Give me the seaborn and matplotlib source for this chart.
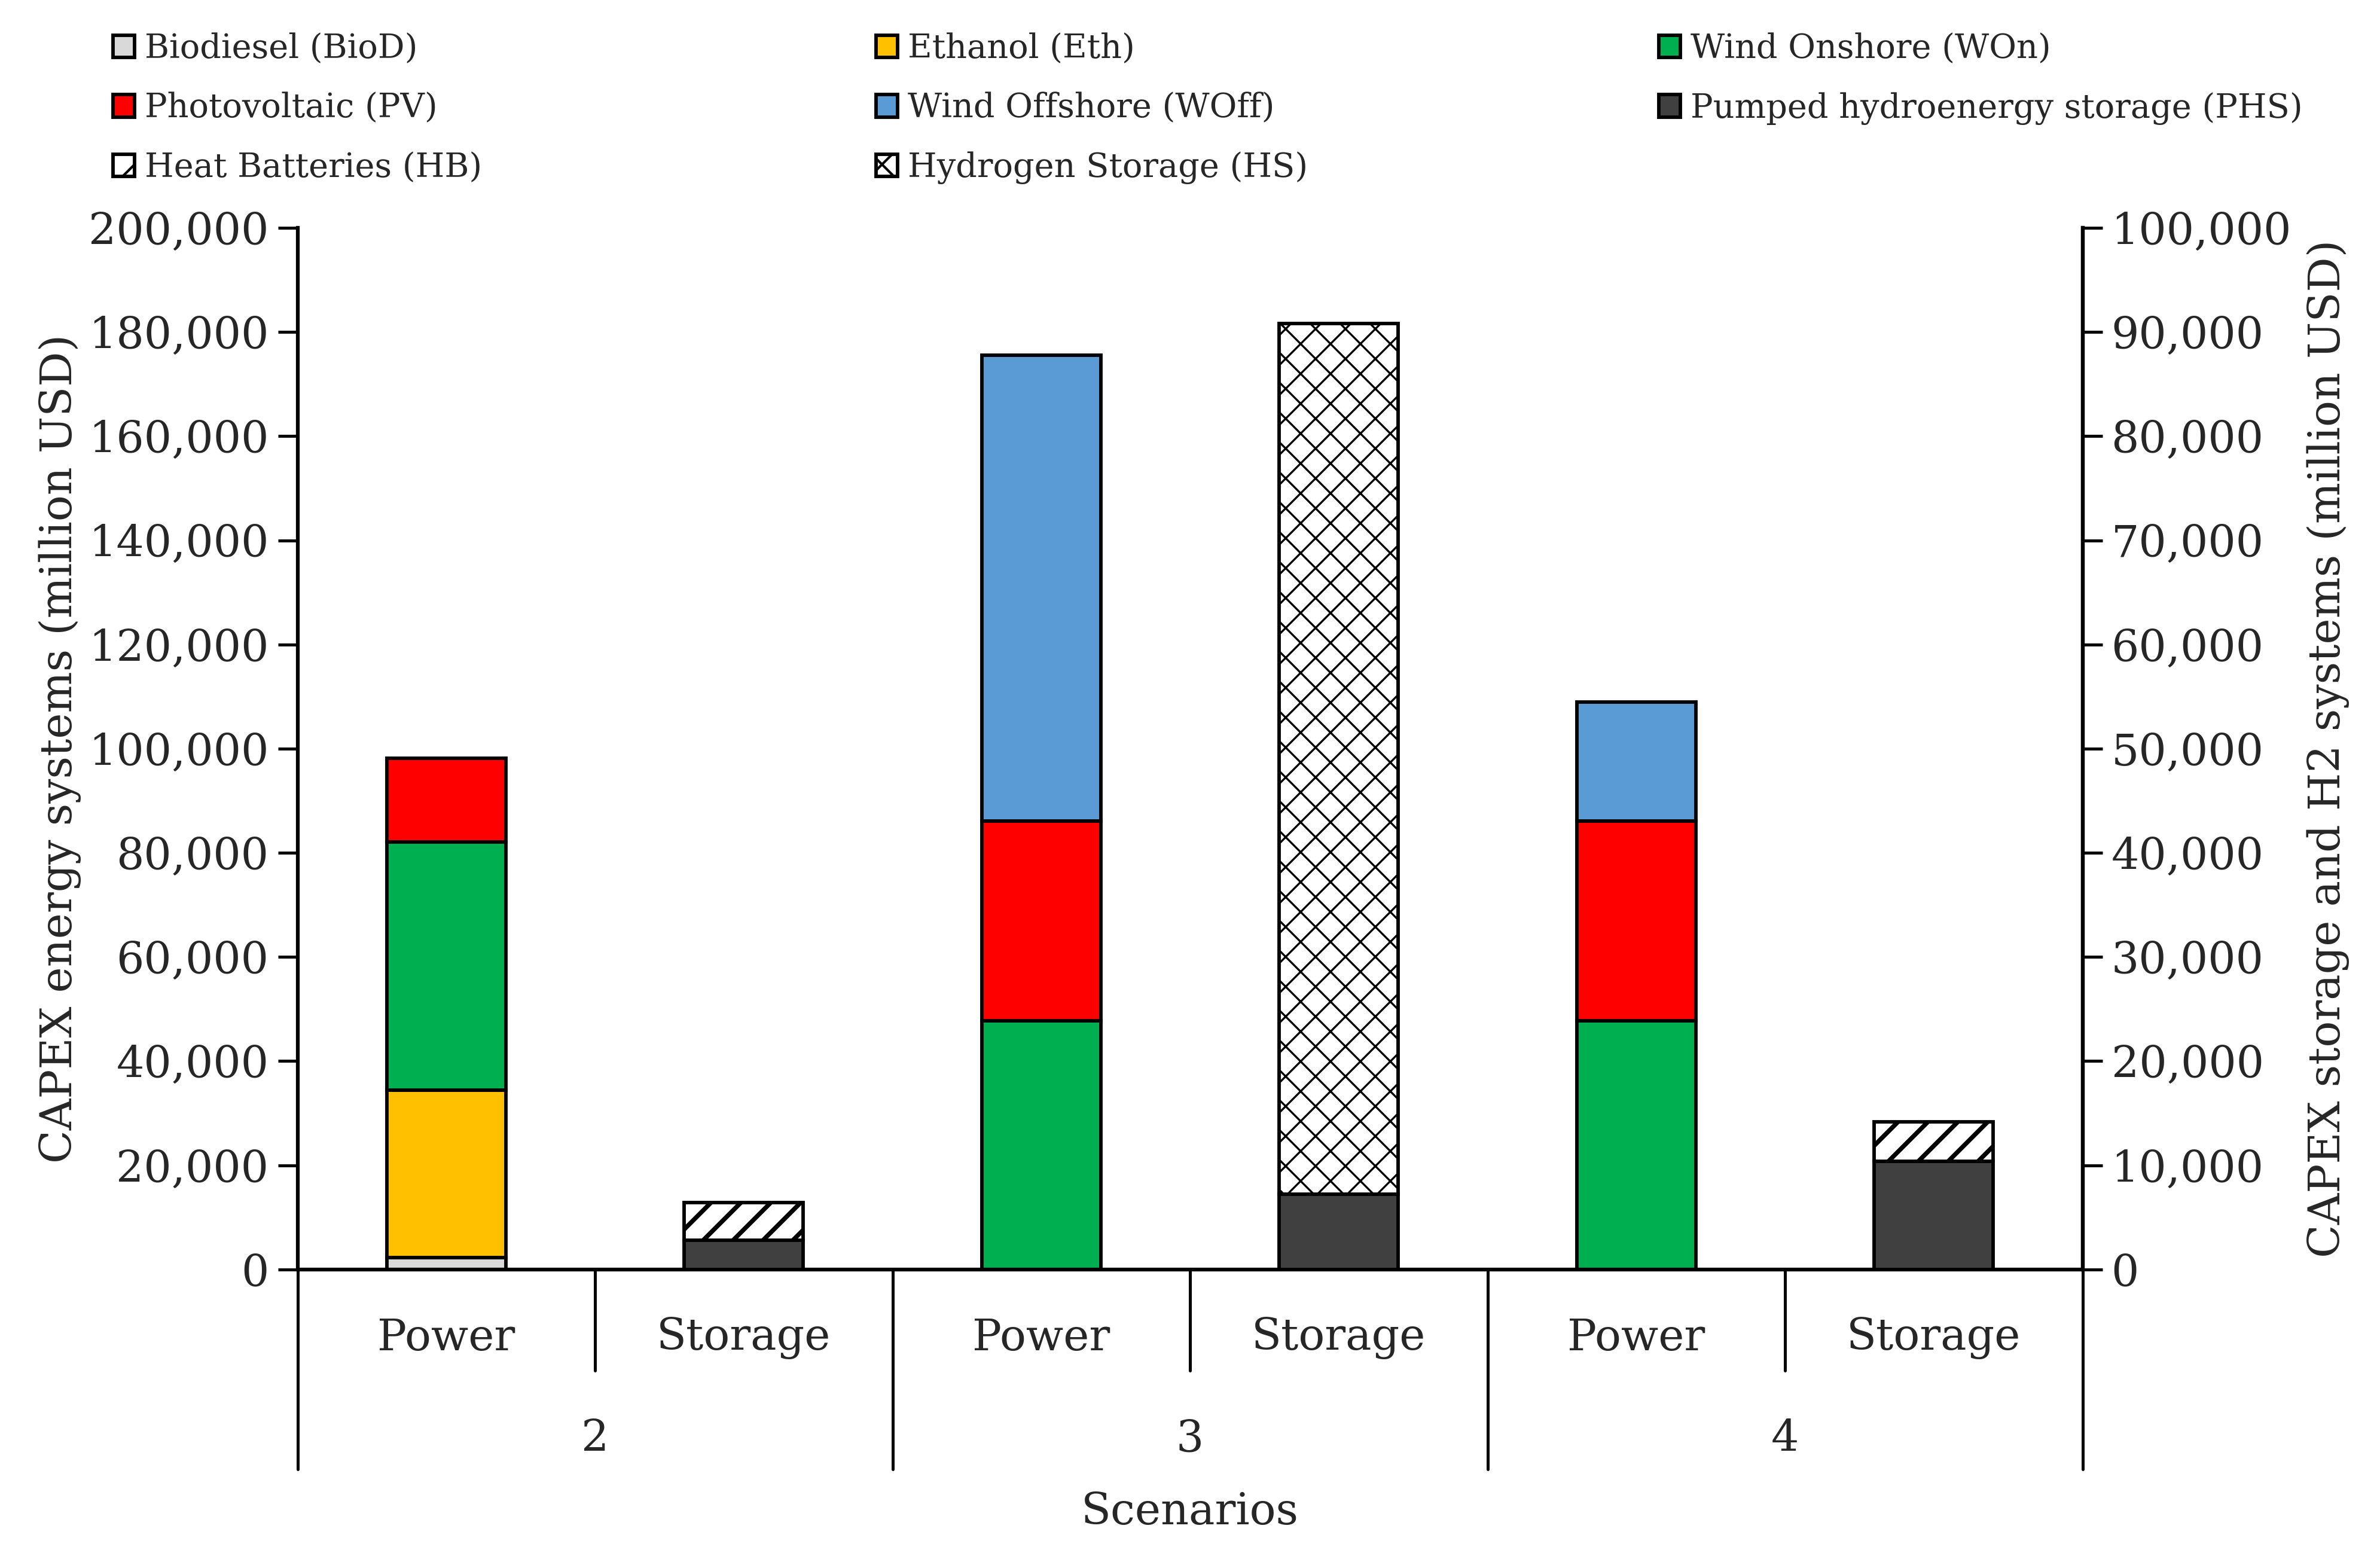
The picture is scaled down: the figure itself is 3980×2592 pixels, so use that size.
import numpy as np
import pandas as pd
import matplotlib
matplotlib.use("Agg")
import matplotlib.pyplot as plt
import matplotlib.transforms as mtransforms
from matplotlib.ticker import StrMethodFormatter, MultipleLocator
from matplotlib.patches import Patch
import seaborn as sns

# ============================
# DATA (million USD)
# ============================
scenarios = ["2", "3", "4"]
subgroups = ["Power", "Storage"]

# power systems (left axis)
biod = [2300, 0, 0]
eth = [32100, 0, 0]
won = [47700, 47700, 47700]
pv = [16000, 38400, 38400]
woff = [0, 89500, 22900]

# storage / H2 systems (right axis)
phs = [2800, 7200, 10400]
hb = [3600, 0, 3800]
hs = [0, 83600, 0]

power_series = [
    ("Biodiesel (BioD)", biod, "#D9D9D9", None),
    ("Ethanol (Eth)", eth, "#FFC000", None),
    ("Wind Onshore (WOn)", won, "#00B050", None),
    ("Photovoltaic (PV)", pv, "#FF0000", None),
    ("Wind Offshore (WOff)", woff, "#5B9BD5", None),
]
storage_series = [
    ("Pumped hydroenergy storage (PHS)", phs, "#404040", None),
    ("Heat Batteries (HB)", hb, "white", "//"),
    ("Hydrogen Storage (HS)", hs, "white", "xx"),
]
hatch_lw = {"//": 1.8, "xx": 0.8}

# ============================
# STYLE
# ============================
sns.set_theme(style="ticks")
plt.rcParams["font.family"] = ["DejaVu Serif"]
plt.rcParams["hatch.color"] = "black"
FS = 17.5

fig = plt.figure(figsize=(13.267, 8.64), dpi=300)
ax = fig.add_axes([0.125, 0.181, 0.75, 0.672])
ax2 = ax.twinx()

width = 0.4
x_power = np.arange(len(scenarios)) * 2
x_storage = x_power + 1


def stacked(axis, xpos, series):
    bottom = np.zeros(len(xpos))
    handles = {}
    for name, vals, color, hatch in series:
        vals = np.asarray(vals, dtype=float)
        lw = hatch_lw.get(hatch, 1.0)
        with plt.rc_context({"hatch.linewidth": lw}):
            bars = axis.bar(xpos, vals, width=width, bottom=bottom, color=color,
                            edgecolor="black", linewidth=1.4, hatch=hatch, zorder=3)
            for b, v in zip(bars, vals):
                if hasattr(b, "set_hatch_linewidth"):
                    b.set_hatch_linewidth(lw)
                if v == 0:
                    b.set_visible(False)
            h = Patch(facecolor=color, edgecolor="black", linewidth=1.4, hatch=hatch)
            if hasattr(h, "set_hatch_linewidth"):
                h.set_hatch_linewidth(lw)
        handles[name] = h
        bottom = bottom + vals
    return handles


handles = stacked(ax, x_power, power_series)
handles.update(stacked(ax2, x_storage, storage_series))

# ============================
# AXES
# ============================
ax.set_xlim(-0.5, 5.5)
ax.set_ylim(0, 200000)
ax2.set_ylim(0, 100000)
ax.yaxis.set_major_locator(MultipleLocator(20000))
ax2.yaxis.set_major_locator(MultipleLocator(10000))
for a in (ax, ax2):
    a.yaxis.set_major_formatter(StrMethodFormatter("{x:,.0f}"))
    a.tick_params(axis="y", labelsize=FS, length=8, width=1.2, direction="out", color="black")
    a.set_xticks([])
    for s in a.spines.values():
        s.set_linewidth(1.5)
        s.set_color("black")
    a.spines["top"].set_visible(False)
    a.spines["bottom"].set_visible(False)
ax.spines["right"].set_visible(True)
ax2.spines["left"].set_visible(False)

ax.set_ylabel("CAPEX energy systems (million USD)", fontsize=FS, labelpad=3)
ax2.set_ylabel("CAPEX storage and H2 systems (million USD)", fontsize=FS, labelpad=6)

# x axis baseline
ax.axhline(0, color="black", linewidth=1.5, zorder=4, clip_on=False)

# multi-level category axis
trans = mtransforms.blended_transform_factory(ax.transData, ax.transAxes)
for i, sc in enumerate(scenarios):
    for j, sub in enumerate(subgroups):
        ax.text(2 * i + j, -0.066, sub, transform=trans, ha="center", va="center", fontsize=FS)
    ax.text(2 * i + 0.5, -0.163, sc, transform=trans, ha="center", va="center", fontsize=FS)
    ax.plot([2 * i + 0.5] * 2, [0, -0.097], transform=trans, color="black", lw=1.2, clip_on=False)
for xb in [-0.5, 1.5, 3.5, 5.5]:
    ax.plot([xb, xb], [0, -0.192], transform=trans, color="black", lw=1.2, clip_on=False)
ax.text(0.5, -0.233, "Scenarios", transform=ax.transAxes, ha="center", va="center", fontsize=FS)

# ============================
# LEGEND (3 columns, row-major)
# ============================
legend_cols = [
    ["Biodiesel (BioD)", "Photovoltaic (PV)", "Heat Batteries (HB)"],
    ["Ethanol (Eth)", "Wind Offshore (WOff)", "Hydrogen Storage (HS)"],
    ["Wind Onshore (WOn)", "Pumped hydroenergy storage (PHS)"],
]
for xc, names in zip([0.0475, 0.368, 0.697], legend_cols):
    fig.legend([handles[n] for n in names], names, loc="upper left",
               bbox_to_anchor=(xc, 0.979), frameon=False, fontsize=13.4,
               handlelength=0.65, handleheight=0.65, handletextpad=0.3,
               labelspacing=0.8, borderaxespad=0, borderpad=0)

fig.savefig("out.png", dpi=300, facecolor="white")
